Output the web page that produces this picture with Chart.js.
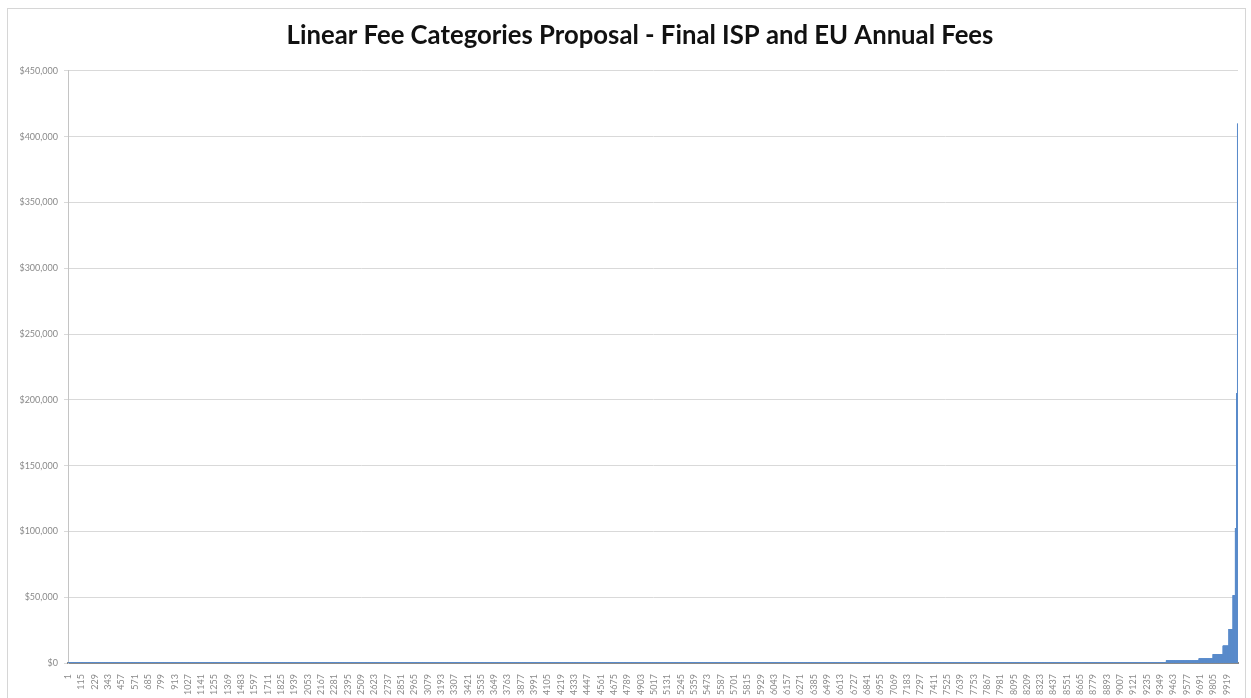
<!DOCTYPE html>
<html>
<head>
<meta charset="utf-8">
<title>Linear Fee Categories Proposal</title>
<script src="https://cdn.jsdelivr.net/npm/chart.js@4.4.1/dist/chart.umd.min.js"></script>
<style>
  html, body { margin: 0; padding: 0; background: #fff; }
  #frame { position: absolute; left: 7px; top: 8px; width: 1237px; height: 700px; border: 1px solid #d6d6d6; }
  #wrap { position: absolute; left: 0; top: 0; }
</style>
</head>
<body>
<div id="frame"></div>
<div id="wrap"><canvas id="feeChart" width="1251" height="698"></canvas></div>
<script>
// Fee steps: number of accounts at each annual fee
const stepCounts = [6000, 1800, 900, 700, 280, 120, 86, 50, 35, 20, 10, 8, 6];
const stepFees = [50, 100, 200, 400, 1600, 3200, 6400, 12800, 25600, 51200, 102400, 204800, 409600];

// Y axis tick values
const yTicks = [0, 50000, 100000, 150000, 200000, 250000, 300000, 350000, 400000, 450000];

// Show every 114th account number on the x axis
const labelEvery = 114;

// Expand the steps into one bar per account
const categories = [];
const fees = [];
stepCounts.forEach((count, i) => {
    for (let k = 0; k < count; k++) {
        categories.push(String(fees.length + 1));
        fees.push(stepFees[i]);
    }
});

// Nudge the title box so its centre sits where it does in the picture
const titleShift = {
    id: "titleShift",
    afterLayout(chart) {
        if (chart.titleBlock) {
            chart.titleBlock.left += 42;
        }
    }
};

const ctx = document.getElementById("feeChart").getContext("2d");

new Chart(ctx, {
    type: "bar",
    data: {
        labels: categories,
        datasets: [{
            data: fees,
            backgroundColor: "#5b8ccb",
            borderWidth: 0,
            barPercentage: 1,
            categoryPercentage: 1
        }]
    },
    options: {
        responsive: false,
        animation: false,
        layout: { padding: { left: 0, right: 13, top: 0, bottom: 0 } },
        plugins: {
            legend: { display: false },
            tooltip: { enabled: false },
            title: {
                display: true,
                text: "Linear Fee Categories Proposal - Final ISP and EU Annual Fees",
                color: "#111",
                font: { family: "Lato", size: 25.7, weight: "bold" },
                padding: { top: 20, bottom: 20 }
            }
        },
        scales: {
            x: {
                grid: { display: false },
                border: { color: "#8a8a8a", width: 2 },
                ticks: {
                    autoSkip: false,
                    minRotation: 90,
                    maxRotation: 90,
                    padding: 3,
                    color: "#8a8a8a",
                    font: { family: "Lato", size: 9 }
                },
                afterBuildTicks: axis => {
                    axis.ticks = axis.ticks.filter(t => t.value % labelEvery === 0);
                },
                afterFit: axis => { axis.height = 35; }
            },
            y: {
                min: 0,
                max: 450000,
                grid: { color: "#d9d9d9", tickLength: 4 },
                border: { color: "#c4c4c4", width: 1 },
                ticks: {
                    padding: 6,
                    color: "#8a8a8a",
                    font: { family: "Lato", size: 9 },
                    callback: v => "$" + v.toLocaleString("en-US")
                },
                afterBuildTicks: axis => {
                    axis.ticks = yTicks.map(v => ({ value: v }));
                },
                afterFit: axis => { axis.width = 68; }
            }
        }
    },
    plugins: [titleShift]
});
</script>
</body>
</html>
